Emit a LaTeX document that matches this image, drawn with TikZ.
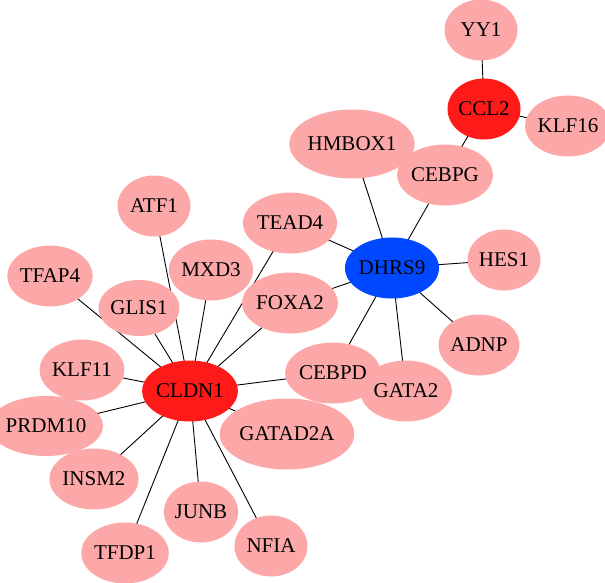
\documentclass[tikz,border=0pt]{standalone}
\usepackage{fontspec}
\setmainfont{Liberation Serif}
\usetikzlibrary{shapes.geometric}
\definecolor{pinkn}{RGB}{252,168,168}
\definecolor{redn}{RGB}{255,26,26}
\definecolor{bluen}{RGB}{0,72,255}
\tikzset{
  gene/.style={ellipse, fill=pinkn, inner sep=0pt, minimum width=73pt, minimum height=61pt, font=\fontsize{21}{21}\selectfont},
  hubred/.style={gene, fill=redn},
  hubblue/.style={gene, fill=bluen},
  link/.style={draw=black, line width=0.9pt},
}
\begin{document}
\begin{tikzpicture}[x=1pt,y=-1pt]
\useasboundingbox (0,0) rectangle (605,583);
% edges first (drawn behind nodes via layering by order of coordinates)
\path
 (481,30) coordinate (pYY1)
 (484,109) coordinate (pCCL2)
 (568,126) coordinate (pKLF16)
 (352,144) coordinate (pHMBOX1)
 (445,175) coordinate (pCEBPG)
 (154,206) coordinate (pATF1)
 (290,223) coordinate (pTEAD4)
 (392,268) coordinate (pDHRS9)
 (504,260) coordinate (pHES1)
 (50,276) coordinate (pTFAP4)
 (211,270) coordinate (pMXD3)
 (139,308) coordinate (pGLIS1)
 (290,303) coordinate (pFOXA2)
 (479,345) coordinate (pADNP)
 (82,370) coordinate (pKLF11)
 (190,391) coordinate (pCLDN1)
 (333,373) coordinate (pCEBPD)
 (406,391) coordinate (pGATA2)
 (46,426) coordinate (pPRDM10)
 (287,434) coordinate (pGATAD2A)
 (94,479) coordinate (pINSM2)
 (201,512) coordinate (pJUNB)
 (125,553) coordinate (pTFDP1)
 (271,546) coordinate (pNFIA);
\foreach \a/\b in {CCL2/YY1,CCL2/KLF16,CCL2/CEBPG,CEBPG/DHRS9,HMBOX1/DHRS9,TEAD4/DHRS9,DHRS9/HES1,DHRS9/FOXA2,DHRS9/ADNP,DHRS9/GATA2,DHRS9/CEBPD,
  CLDN1/ATF1,CLDN1/TFAP4,CLDN1/GLIS1,CLDN1/MXD3,CLDN1/TEAD4,CLDN1/FOXA2,CLDN1/KLF11,CLDN1/CEBPD,CLDN1/PRDM10,CLDN1/GATAD2A,CLDN1/INSM2,CLDN1/TFDP1,CLDN1/JUNB,CLDN1/NFIA}
  \draw[link] (p\a) -- (p\b);
\node[gene] (YY1) at (pYY1) {YY1};
\node[hubred] (CCL2) at (pCCL2) {CCL2};
\node[gene] (KLF16) at (pKLF16) {KLF16};
\node[gene, minimum width=96pt, minimum height=69pt] (HMBOX1) at (pHMBOX1) {HMBOX1};
\node[gene] (CEBPG) at (pCEBPG) {CEBPG};
\node[gene] (ATF1) at (pATF1) {ATF1};
\node[gene] (TEAD4) at (pTEAD4) {TEAD4};
\node[hubblue] (DHRS9) at (pDHRS9) {DHRS9};
\node[gene] (HES1) at (pHES1) {HES1};
\node[gene] (TFAP4) at (pTFAP4) {TFAP4};
\node[gene] (MXD3) at (pMXD3) {MXD3};
\node[gene, minimum width=65pt, minimum height=56pt] (GLIS1) at (pGLIS1) {GLIS1};
\node[gene] (FOXA2) at (pFOXA2) {FOXA2};
\node[gene] (ADNP) at (pADNP) {ADNP};
\node[gene] (KLF11) at (pKLF11) {KLF11};
\node[hubred] (CLDN1) at (pCLDN1) {CLDN1};
\node[gene] (CEBPD) at (pCEBPD) {CEBPD};
\node[gene] (GATA2) at (pGATA2) {GATA2};
\node[gene, minimum width=90pt, minimum height=60pt] (PRDM10) at (pPRDM10) {PRDM10};
\node[gene, minimum width=105pt, minimum height=71pt] (GATAD2A) at (pGATAD2A) {GATAD2A};
\node[gene] (INSM2) at (pINSM2) {INSM2};
\node[gene] (JUNB) at (pJUNB) {JUNB};
\node[gene] (TFDP1) at (pTFDP1) {TFDP1};
\node[gene] (NFIA) at (pNFIA) {NFIA};
\end{tikzpicture}
\end{document}
